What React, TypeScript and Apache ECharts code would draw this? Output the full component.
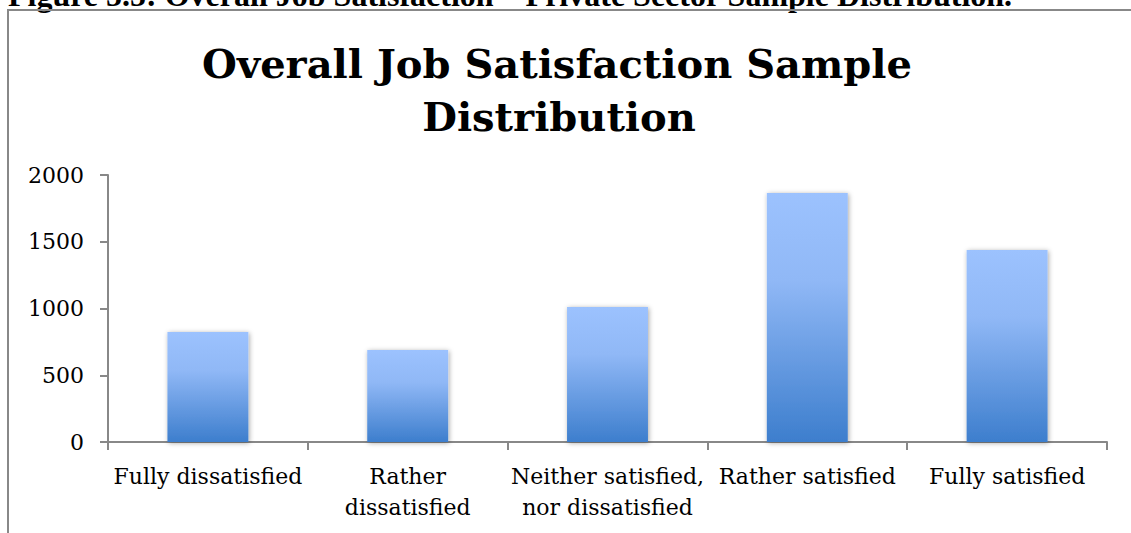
import React, { useEffect, useRef } from "react";
import * as echarts from "echarts";

const categories = [
  "Fully dissatisfied",
  "Rather\ndissatisfied",
  "Neither satisfied,\nnor dissatisfied",
  "Rather satisfied",
  "Fully satisfied",
];
const counts = [824, 689, 1011, 1865, 1438];
const yTicks = { min: 0, max: 2000, interval: 500 };
const captionText =
  "Figure 5.5: Overall Job Satisfaction \u2013 Private Sector Sample Distribution.";
const titleLines = ["Overall Job Satisfaction Sample", "Distribution"];

const SERIF = "'DejaVu Serif', serif";
const GRID_GREY = "#888888";

export default function App() {
  const ref = useRef<HTMLDivElement>(null);

  useEffect(() => {
    document.body.style.margin = "0";
    if (!ref.current) return;
    const chart = echarts.init(ref.current, undefined, { renderer: "svg" });
    chart.setOption({
      animation: false,
      backgroundColor: "#ffffff",
      graphic: [
        {
          // document caption above the chart frame, clipped by the page top
          type: "text",
          x: 8,
          y: -5,
          style: {
            text: captionText,
            font: "bold 32px 'Liberation Serif', 'Times New Roman', serif",
            fill: "#000",
            align: "left",
            verticalAlign: "middle",
          },
        },
        {
          type: "polyline",
          shape: { points: [[8, 533], [8, 10], [1131, 10]] },
          style: { stroke: GRID_GREY, lineWidth: 2, fill: "none" },
        },
        {
          type: "text",
          x: 557,
          y: 63,
          style: {
            text: titleLines[0],
            font: `bold 40px ${SERIF}`,
            fill: "#000",
            align: "center",
            verticalAlign: "middle",
          },
        },
        {
          type: "text",
          x: 559,
          y: 116,
          style: {
            text: titleLines[1],
            font: `bold 40px ${SERIF}`,
            fill: "#000",
            align: "center",
            verticalAlign: "middle",
          },
        },
      ],
      grid: {
        left: 108,
        right: 24,
        top: 175,
        bottom: 91,
        containLabel: false,
        outerBoundsMode: "none",
      },
      xAxis: {
        type: "category",
        data: categories,
        axisLine: { show: true, lineStyle: { color: GRID_GREY, width: 2 } },
        axisTick: {
          show: true,
          alignWithLabel: false,
          length: 8,
          lineStyle: { color: GRID_GREY, width: 2 },
        },
        axisLabel: {
          interval: 0,
          margin: 19,
          color: "#000",
          fontFamily: SERIF,
          fontSize: 22,
          lineHeight: 31,
        },
      },
      yAxis: {
        type: "value",
        min: yTicks.min,
        max: yTicks.max,
        interval: yTicks.interval,
        axisLine: { show: true, lineStyle: { color: GRID_GREY, width: 2 } },
        axisTick: { show: true, length: 8, lineStyle: { color: GRID_GREY, width: 2 } },
        axisLabel: {
          margin: 24,
          color: "#000",
          fontFamily: SERIF,
          fontSize: 22,
          formatter: (v: number) => String(v),
        },
        splitLine: {
          show: true,
          lineStyle: {
            color: GRID_GREY,
            width: 2,
            shadowColor: "rgba(0,0,0,0.18)",
            shadowBlur: 2,
            shadowOffsetY: 1,
          },
        },
      },
      series: [
        {
          type: "bar",
          data: counts,
          barWidth: "40.5%",
          itemStyle: {
            color: new echarts.graphic.LinearGradient(0, 0, 0, 1, [
              { offset: 0, color: "#9cc2fe" },
              { offset: 0.35, color: "#90b8f6" },
              { offset: 1, color: "#3d7ecd" },
            ]),
            shadowColor: "rgba(0,0,0,0.35)",
            shadowBlur: 5,
            shadowOffsetX: 1,
            shadowOffsetY: 1,
          },
        },
      ],
    });
    return () => chart.dispose();
  }, []);

  return <div ref={ref} style={{ width: 1131, height: 533 }} />;
}
